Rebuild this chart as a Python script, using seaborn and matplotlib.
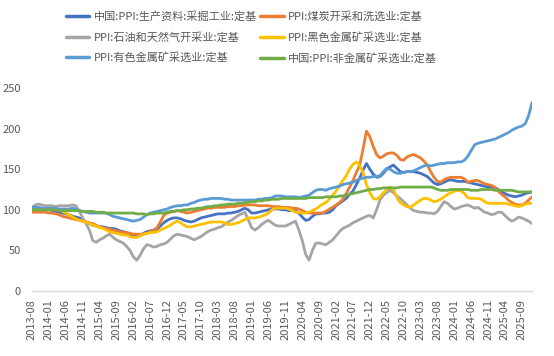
"""PPI mining sub-indices (fixed base) line chart."""
import matplotlib
matplotlib.use("Agg")
import matplotlib.pyplot as plt
import numpy as np
import pandas as pd
import seaborn as sns

# ---- data (monthly, 2013-08 .. 2025-12) ----
months = pd.date_range("2013-08-01", periods=149, freq="MS").strftime("%Y-%m").tolist()

series_names = [
    "中国:PPI:生产资料:采掘工业:定基",
    "PPI:煤炭开采和洗选业:定基",
    "PPI:石油和天然气开采业:定基",
    "PPI:黑色金属矿采选业:定基",
    "PPI:有色金属矿采选业:定基",
    "中国:PPI:非金属矿采选业:定基",
]

mining = [
    102, 101, 100, 100, 100, 100, 99, 98, 97, 96, 95, 94,
    92, 91, 90, 87, 85, 83, 81, 80, 79, 79, 78, 77,
    77, 76, 74, 73, 72, 70, 68, 67, 68, 71, 73, 74,
    75, 76, 80, 84, 87, 89, 90, 90, 89, 87, 86, 85,
    86, 88, 90, 91, 92, 93, 94, 95, 95, 95, 96, 96,
    97, 98, 100, 102, 100, 96, 96, 97, 98, 99, 100, 101,
    101, 101, 100, 100, 99, 99, 99, 96, 91, 87, 88, 92,
    95, 95, 96, 96, 97, 100, 105, 108, 111, 114, 119, 123,
    131, 139, 149, 157, 150, 144, 140, 141, 145, 150, 153, 155,
    151, 147, 146, 147, 147, 147, 146, 145, 143, 141, 137, 133,
    131, 132, 134, 136, 137, 136, 135, 135, 135, 134, 133, 132,
    131, 130, 129, 128, 128, 127, 125, 122, 120, 118, 117, 116,
    117, 118, 120, 121, 122,
]

coal = [
    97, 97, 97, 97, 97, 96, 96, 95, 94, 92, 91, 90,
    89, 88, 87, 86, 85, 84, 83, 81, 79, 78, 77, 76,
    75, 74, 73, 72, 72, 71, 70, 70, 70, 70, 71, 73,
    75, 78, 85, 93, 96, 97, 98, 99, 98, 97, 96, 97,
    98, 99, 100, 101, 102, 102, 103, 103, 103, 103, 104, 104,
    104, 105, 105, 106, 106, 106, 106, 105, 105, 105, 105, 104,
    104, 104, 103, 103, 103, 102, 102, 101, 99, 97, 96, 96,
    96, 96, 96, 98, 101, 103, 106, 109, 113, 120, 128, 136,
    146, 155, 175, 197, 190, 178, 168, 164, 166, 169, 170, 170,
    167, 162, 161, 165, 167, 168, 166, 164, 160, 155, 147, 140,
    135, 134, 137, 139, 140, 140, 140, 140, 138, 134, 135, 136,
    136, 134, 132, 131, 130, 128, 123, 119, 116, 112, 109, 107,
    106, 106, 108, 112, 116,
]

oil_gas = [
    103, 106, 107, 106, 105, 105, 105, 104, 105, 105, 105, 105,
    106, 105, 98, 90, 83, 75, 62, 60, 63, 65, 68, 70,
    66, 63, 61, 59, 55, 50, 42, 38, 44, 52, 57, 56,
    54, 55, 57, 58, 60, 64, 68, 70, 69, 68, 67, 65,
    63, 65, 67, 70, 73, 75, 76, 78, 79, 82, 85, 87,
    90, 93, 95, 97, 88, 78, 75, 78, 82, 85, 87, 84,
    81, 80, 80, 80, 82, 84, 86, 75, 62, 45, 38, 50,
    59, 59, 58, 57, 60, 63, 68, 73, 77, 79, 81, 84,
    86, 88, 90, 92, 93, 90, 100, 112, 118, 121, 124, 121,
    117, 114, 110, 106, 102, 99, 98, 97, 97, 96, 96, 95,
    98, 104, 110, 108, 104, 101, 102, 104, 105, 106, 104, 102,
    103, 100, 97, 96, 94, 95, 97, 97, 93, 89, 86, 88,
    91, 90, 88, 86, 83,
]

ferrous = [
    100, 101, 101, 101, 101, 102, 102, 101, 100, 98, 96, 94,
    91, 89, 87, 86, 85, 83, 81, 80, 78, 77, 75, 73,
    72, 71, 70, 69, 69, 67, 66, 66, 68, 70, 71, 72,
    72, 73, 75, 77, 79, 81, 84, 86, 84, 81, 79, 79,
    80, 81, 82, 83, 84, 85, 85, 85, 85, 84, 82, 82,
    83, 84, 86, 88, 90, 90, 90, 91, 92, 94, 96, 100,
    102, 102, 102, 102, 101, 99, 97, 97, 96, 96, 97, 99,
    101, 104, 107, 109, 113, 118, 123, 130, 136, 142, 150, 156,
    159, 155, 146, 131, 121, 114, 113, 116, 121, 125, 128, 125,
    115, 109, 106, 104, 103, 106, 109, 112, 114, 114, 112, 110,
    111, 113, 116, 119, 121, 123, 124, 123, 120, 115, 114, 114,
    114, 113, 110, 108, 108, 108, 108, 108, 108, 107, 106, 105,
    104, 105, 107, 108, 108,
]

nonferrous = [
    103, 103, 103, 102, 102, 102, 102, 102, 101, 101, 101, 101,
    102, 101, 99, 98, 97, 96, 96, 96, 96, 96, 96, 94,
    92, 91, 90, 89, 88, 87, 86, 87, 88, 91, 94, 96,
    97, 98, 99, 100, 101, 103, 104, 105, 105, 106, 106, 108,
    109, 111, 112, 113, 113, 114, 114, 114, 114, 113, 113, 112,
    112, 112, 112, 112, 112, 112, 112, 113, 113, 114, 114, 115,
    117, 117, 117, 116, 116, 116, 116, 115, 116, 117, 118, 121,
    124, 125, 125, 124, 126, 127, 128, 129, 131, 132, 133, 134,
    136, 138, 139, 140, 140, 141, 141, 142, 147, 151, 150, 147,
    145, 145, 146, 147, 147, 148, 150, 152, 154, 155, 154, 155,
    156, 157, 157, 158, 158, 158, 159, 159, 161, 166, 173, 180,
    182, 183, 184, 185, 186, 187, 189, 191, 193, 195, 198, 200,
    202, 203, 206, 216, 232,
]

nonmetal = [
    100, 100, 100, 100, 100, 100, 100, 100, 99, 99, 99, 99,
    99, 99, 99, 98, 98, 98, 98, 97, 97, 97, 96, 96,
    96, 96, 96, 96, 96, 96, 96, 95, 95, 95, 94, 95,
    95, 96, 96, 96, 97, 98, 98, 99, 99, 100, 100, 101,
    101, 102, 102, 103, 104, 104, 105, 105, 106, 106, 107, 107,
    107, 108, 108, 109, 109, 110, 110, 111, 111, 112, 112, 113,
    113, 113, 114, 114, 114, 114, 114, 114, 114, 114, 115, 115,
    115, 115, 115, 116, 116, 116, 116, 117, 117, 118, 119, 120,
    121, 122, 123, 124, 125, 125, 126, 126, 127, 127, 127, 127,
    127, 128, 128, 128, 128, 128, 128, 128, 128, 128, 128, 127,
    125, 124, 124, 124, 125, 125, 125, 125, 125, 125, 124, 124,
    124, 125, 125, 125, 125, 124, 124, 124, 124, 124, 124, 123,
    122, 122, 122, 122, 122,
]

colors = ["#4472C4", "#ED7D31", "#A5A5A5", "#FFC000", "#5B9BD5", "#70AD47"]

values = [mining, coal, oil_gas, ferrous, nonferrous, nonmetal]
df = pd.concat(
    [
        pd.DataFrame({"idx": np.arange(len(months)), "value": v, "series": name})
        for name, v in zip(series_names, values)
    ],
    ignore_index=True,
)

# ---- plot ----
sns.set_style("white")
plt.rcParams["font.family"] = ["Noto Sans CJK SC", "DejaVu Sans"]

fig = plt.figure(figsize=(5.54, 3.56), dpi=100)
ax = fig.add_axes([32 / 554, 1 - 291 / 356, 500 / 554, 203 / 356])

sns.lineplot(
    data=df, x="idx", y="value", hue="series", hue_order=series_names,
    palette=colors, linewidth=2.0, legend=False, ax=ax,
)

ax.set_xlim(0, len(months) - 1)
ax.set_ylim(0, 250)
ax.set_yticks(range(0, 251, 50))
ax.set_xticks(range(0, len(months), 5))
ax.set_xticklabels(months[::5], rotation=90)
ax.set_xticks(range(len(months)), minor=True)
ax.set_xlabel("")
ax.set_ylabel("")

for side in ["top", "right", "left"]:
    ax.spines[side].set_visible(False)
ax.spines["bottom"].set_color("#D9D9D9")
ax.spines["bottom"].set_linewidth(1.0)
ax.tick_params(axis="x", which="both", direction="out", length=3, width=0.8,
               color="#D9D9D9", labelsize=8, labelcolor="#595959", pad=3)
ax.tick_params(axis="y", length=0, labelsize=8, labelcolor="#595959", pad=8)
ax.grid(False)

# legend: 2 columns, row order follows the series order
handles = [plt.Line2D([], [], color=c, linewidth=2.5) for c in colors]
order = [0, 2, 4, 1, 3, 5]
fig.legend(
    [handles[i] for i in order], [series_names[i] for i in order],
    ncol=2, loc="upper left", bbox_to_anchor=(66 / 554, 1 - 11 / 356),
    frameon=False, fontsize=8, labelcolor="#595959", handlelength=2.1,
    handletextpad=0.4, columnspacing=0.3, labelspacing=0.9,
    borderpad=0, borderaxespad=0,
)

fig.savefig("out.png", dpi=100)
plt.close(fig)
